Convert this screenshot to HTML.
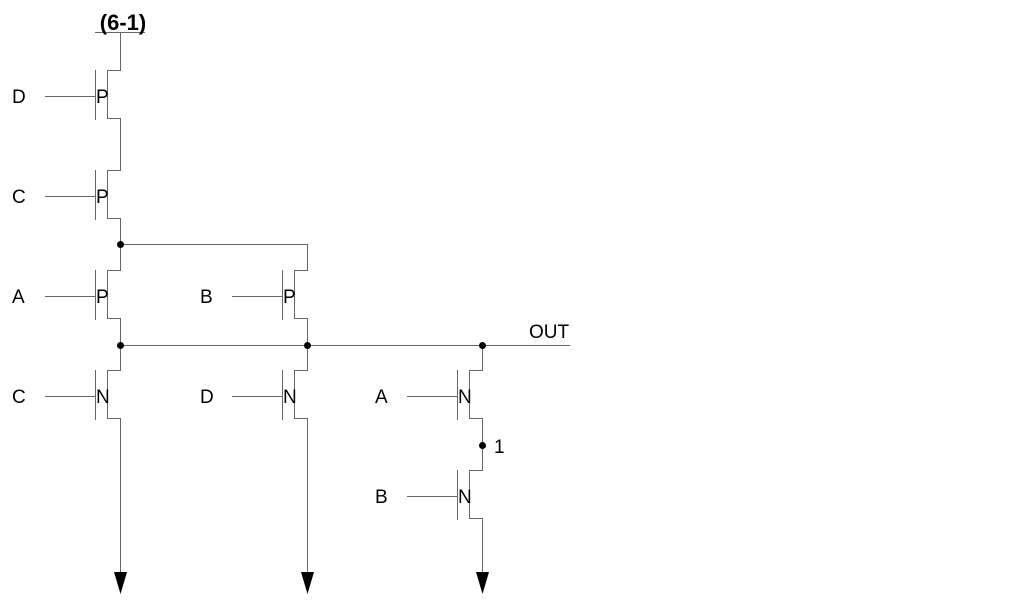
<!DOCTYPE html>
<html><head><style>
html,body{margin:0;padding:0;background:#fff;}
svg{display:block;}
text{font-family:"Liberation Sans",sans-serif;font-size:19px;fill:#000;}
</style></head><body>
<svg width="1025" height="609" viewBox="0 0 1025 609" xmlns="http://www.w3.org/2000/svg">
<g stroke="#666" stroke-width="1" fill="none" shape-rendering="crispEdges">
<line x1="95" y1="32.5" x2="145" y2="32.5"/>
<polyline points="120.5,32 120.5,70.5 107.5,70.5 107.5,118.5 120.5,118.5 120.5,170.5 107.5,170.5 107.5,218.5 120.5,218.5 120.5,270.5 107.5,270.5 107.5,318.5 120.5,318.5 120.5,370.5 107.5,370.5 107.5,418.5 120.5,418.5 120.5,575"/>
<line x1="95.5" y1="70" x2="95.5" y2="120"/>
<line x1="95.5" y1="170" x2="95.5" y2="220"/>
<line x1="95.5" y1="270" x2="95.5" y2="320"/>
<line x1="95.5" y1="370" x2="95.5" y2="420"/>
<line x1="45" y1="96.5" x2="95" y2="96.5"/>
<line x1="45" y1="196.5" x2="95" y2="196.5"/>
<line x1="45" y1="296.5" x2="95" y2="296.5"/>
<line x1="45" y1="396.5" x2="95" y2="396.5"/>
<polyline points="120,244.5 307.5,244.5 307.5,270.5 294.5,270.5 294.5,318.5 307.5,318.5 307.5,370.5 294.5,370.5 294.5,418.5 307.5,418.5 307.5,575"/>
<line x1="282.5" y1="270" x2="282.5" y2="320"/>
<line x1="282.5" y1="370" x2="282.5" y2="420"/>
<line x1="232" y1="296.5" x2="282" y2="296.5"/>
<line x1="232" y1="396.5" x2="282" y2="396.5"/>
<line x1="120" y1="345.5" x2="570" y2="345.5"/>
<polyline points="482.5,345 482.5,370.5 469.5,370.5 469.5,418.5 482.5,418.5 482.5,470.5 469.5,470.5 469.5,518.5 482.5,518.5 482.5,575"/>
<line x1="457.5" y1="370" x2="457.5" y2="420"/>
<line x1="457.5" y1="470" x2="457.5" y2="520"/>
<line x1="407" y1="396.5" x2="457" y2="396.5"/>
<line x1="407" y1="496.5" x2="457" y2="496.5"/>
</g>
<g fill="#000">
<circle cx="120.5" cy="244.5" r="3.5"/>
<circle cx="120.5" cy="345.5" r="3.5"/>
<circle cx="307.5" cy="345.5" r="3.5"/>
<circle cx="482.5" cy="345.5" r="3.5"/>
<circle cx="482.5" cy="445.5" r="3.5"/>
<polygon points="114,572 127,572 120.5,594"/>
<polygon points="301,572 314,572 307.5,594"/>
<polygon points="476,572 489,572 482.5,594"/>
</g>
<text x="123" y="30" text-anchor="middle" font-weight="bold" style="font-size:22px">(6-1)</text>
<text x="12" y="103">D</text>
<text x="12" y="203">C</text>
<text x="12" y="303">A</text>
<text x="12" y="403">C</text>
<text x="200" y="303">B</text>
<text x="200" y="403">D</text>
<text x="375" y="403">A</text>
<text x="375" y="503">B</text>
<text x="96" y="103">P</text>
<text x="96" y="203">P</text>
<text x="96" y="303">P</text>
<text x="96" y="403">N</text>
<text x="283" y="303">P</text>
<text x="283" y="403">N</text>
<text x="458" y="403">N</text>
<text x="458" y="503">N</text>
<text x="529" y="338">OUT</text>
<text x="494" y="453">1</text>
</svg>
</body></html>
